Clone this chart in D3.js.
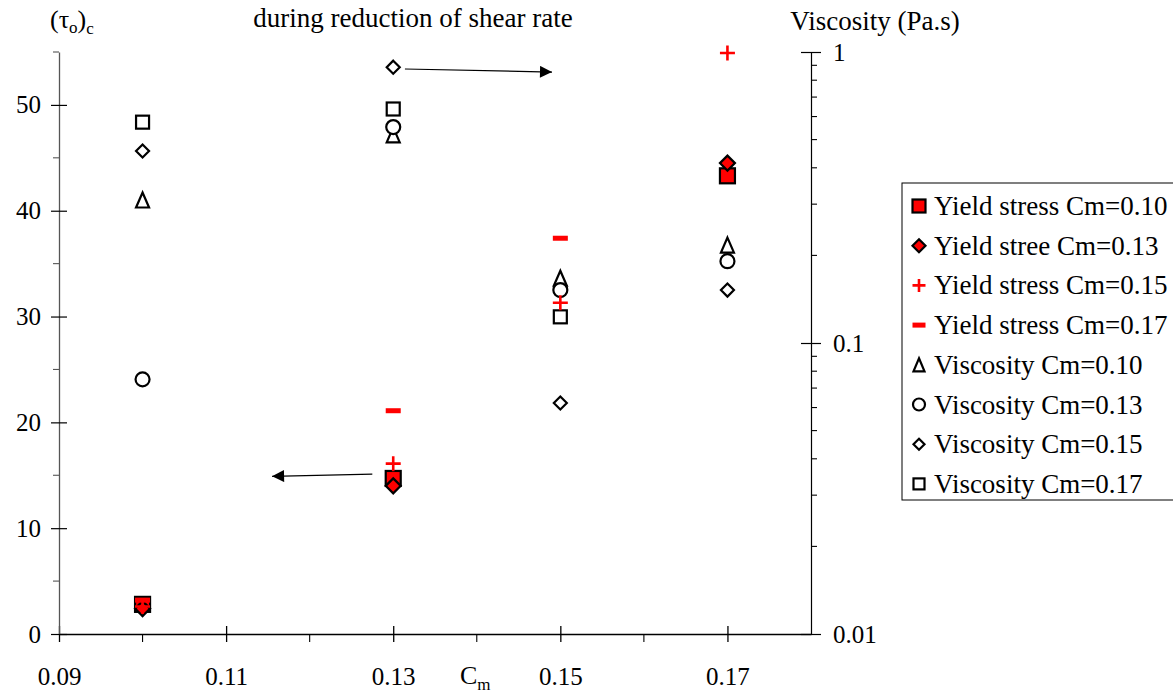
<!DOCTYPE html>
<html><head><meta charset="utf-8">
<script src="https://cdn.jsdelivr.net/npm/d3@7"></script>
<style>
body{margin:0;background:#fff;}
</style></head>
<body><svg id="c" width="1173" height="693" font-family="'Liberation Serif', 'Times New Roman', serif"></svg>
<script>
// ---- data ----
const cmValues = [0.10, 0.13, 0.15, 0.17];
const yieldCm010 = [2.8, 14.7, null, 43.3];
const yieldCm013 = [2.4, 14.0, null, 44.5];
const yieldCm015 = [2.6, 16.1, 31.3, 54.9];
const yieldCm017 = [3.2, 21.1, 37.4, null];
const viscCm010 = [0.31, 0.519, 0.167, 0.217];
const viscCm013 = [0.075, 0.552, 0.152, 0.191];
const viscCm015 = [0.457, 0.887, 0.0622, 0.152];
const viscCm017 = [0.574, 0.637, 0.123, null];
const xTicks = [0.09, 0.11, 0.13, 0.15, 0.17];
const xMinorTicks = [0.10, 0.12, 0.14, 0.16];
const yLeftTicks = [0, 10, 20, 30, 40, 50];
const yRightTicks = [0.01, 0.1, 1];
const seriesNames = ["Yield stress Cm=0.10","Yield stree Cm=0.13","Yield stress Cm=0.15","Yield stress Cm=0.17",
  "Viscosity Cm=0.10","Viscosity Cm=0.13","Viscosity Cm=0.15","Viscosity Cm=0.17"];

const FONT = "'Liberation Serif', 'Times New Roman', serif";
const svg = d3.select("#c");
const L = 59, R = 811, T = 52, B = 634;
const x = d3.scaleLinear().domain([0.09, 0.18]).range([L, R]);
const yL = d3.scaleLinear().domain([0, 55]).range([B, T]);
const yR = d3.scaleLog().domain([0.01, 1]).range([B, T]);
const FS = "25px";

// axes
const axCol = "#000";
const gx = svg.append("g").attr("transform", `translate(0,${B})`);
gx.call(d3.axisBottom(x).tickValues(xTicks).tickSize(0).tickFormat(d3.format(".2f")));
gx.select(".domain").attr("stroke", axCol).attr("stroke-width", 1.3);
gx.selectAll(".tick text").attr("dy", null).attr("y", 51).style("font-size", FS);
gx.selectAll(".tick").append("line").attr("y1", -8).attr("y2", 8).attr("stroke", axCol).attr("stroke-width", 1.3);
gx.selectAll(".minor").data(xMinorTicks).enter().append("line")
  .attr("x1", d => x(d)).attr("x2", d => x(d)).attr("y1", 0).attr("y2", 8).attr("stroke", axCol).attr("stroke-width", 1.1);

const gl = svg.append("g").attr("transform", `translate(${L},0)`);
gl.call(d3.axisLeft(yL).tickValues(yLeftTicks).tickSize(0).tickPadding(18));
gl.select(".domain").attr("stroke", "#555").attr("stroke-width", 1.3);
gl.selectAll(".tick text").style("font-size", FS);
gl.selectAll(".tick").append("line").attr("x1", -8).attr("x2", 8).attr("stroke", axCol).attr("stroke-width", 1.2);
gl.selectAll(".minor").data([5, 15, 25, 35, 45, 55]).enter().append("line")
  .attr("y1", d => yL(d)).attr("y2", d => yL(d)).attr("x1", -6).attr("x2", 0).attr("stroke", "#555").attr("stroke-width", 1.1);

const gr = svg.append("g").attr("transform", `translate(${R},0)`);
gr.call(d3.axisRight(yR).tickValues(yRightTicks).tickSize(0).tickPadding(22).tickFormat(d => String(d)));
gr.select(".domain").attr("stroke", axCol).attr("stroke-width", 1.2);
gr.selectAll(".tick text").style("font-size", FS);
gr.selectAll(".tick").append("line").attr("x1", -10).attr("x2", 10).attr("stroke", axCol).attr("stroke-width", 1.2);
const rMinor = [];
[0.01, 0.1].forEach(b => { for (let k = 2; k <= 9; k++) rMinor.push(b * k); });
gr.selectAll(".minor").data(rMinor).enter().append("line")
  .attr("y1", d => yR(d)).attr("y2", d => yR(d)).attr("x1", 0).attr("x2", 6).attr("stroke", axCol).attr("stroke-width", 1.1);
[gx, gl, gr].forEach(g => g.attr("font-family", FONT));

// titles
svg.append("text").attr("x", 50).attr("y", 28).style("font-size", "26px")
  .html('(τ<tspan dy="5" font-size="17">o</tspan><tspan dy="-5">)</tspan><tspan dy="6" font-size="17">c</tspan>');
svg.append("text").attr("x", 413).attr("y", 27).attr("text-anchor", "middle").style("font-size", "27px").text("during reduction of shear rate");
svg.append("text").attr("x", 875).attr("y", 30).attr("text-anchor", "middle").style("font-size", "27px").text("Viscosity (Pa.s)");
svg.append("text").attr("x", 460).attr("y", 684).style("font-size", "26px")
  .html('C<tspan dy="6" font-size="17">m</tspan>');

// markers
function marker(g, type, s) {
  const h = s / 2;
  if (type === "ysq") g.append("rect").attr("x", -h).attr("y", -h).attr("width", s).attr("height", s).attr("fill", "#ff0000").attr("stroke", "#000").attr("stroke-width", 2.2);
  if (type === "ydi") g.append("path").attr("d", `M0,${-h}L${h},0L0,${h}L${-h},0Z`).attr("fill", "#ff0000").attr("stroke", "#000").attr("stroke-width", 2.2);
  if (type === "ypl") g.append("path").attr("d", `M${-h},0H${h}M0,${-h}V${h}`).attr("stroke", "#ff0000").attr("stroke-width", 2.6).attr("fill", "none");
  if (type === "ymi") g.append("rect").attr("x", -h).attr("y", -2.5).attr("width", s).attr("height", 5).attr("fill", "#ff0000");
  if (type === "vtr") g.append("path").attr("d", `M0,${-h}L${h - 1},${h}L${-h + 1},${h}Z`).attr("fill", "#fff").attr("stroke", "#000").attr("stroke-width", 2.2).attr("stroke-linejoin", "miter");
  if (type === "vci") g.append("circle").attr("r", h - 0.5).attr("fill", "#fff").attr("stroke", "#000").attr("stroke-width", 2.2);
  if (type === "vdi") g.append("path").attr("d", `M0,${-h + 1}L${h - 1},0L0,${h - 1}L${-h + 1},0Z`).attr("fill", "#fff").attr("stroke", "#000").attr("stroke-width", 2.2);
  if (type === "vsq") g.append("rect").attr("x", -h + 1).attr("y", -h + 1).attr("width", s - 2).attr("height", s - 2).attr("fill", "#fff").attr("stroke", "#000").attr("stroke-width", 2.2);
}
const series = [
  {vals: yieldCm010, type: "ysq", axis: "L"},
  {vals: yieldCm013, type: "ydi", axis: "L"},
  {vals: yieldCm015, type: "ypl", axis: "L"},
  {vals: yieldCm017, type: "ymi", axis: "L"},
  {vals: viscCm010, type: "vtr", axis: "R"},
  {vals: viscCm013, type: "vci", axis: "R"},
  {vals: viscCm015, type: "vdi", axis: "R"},
  {vals: viscCm017, type: "vsq", axis: "R"}
];
const plotOrder = [4, 5, 6, 7, 0, 1, 2, 3];
plotOrder.forEach(i => {
  const s = series[i];
  s.vals.forEach((v, j) => {
    if (v == null) return;
    const yy = s.axis === "L" ? yL(v) : yR(v);
    const g = svg.append("g").attr("transform", `translate(${x(cmValues[j])},${yy})`);
    marker(g, s.type, 15);
  });
});

// arrows
svg.append("defs").append("marker").attr("id", "ah").attr("viewBox", "0 0 10 10").attr("refX", 10).attr("refY", 5)
  .attr("markerWidth", 14).attr("markerHeight", 12).attr("markerUnits", "userSpaceOnUse").attr("orient", "auto")
  .append("path").attr("d", "M0,0L10,5L0,10Z").attr("fill", "#000");
const arrowTop = {x1: 0.1314, y1: 0.874, x2: 0.1490, y2: 0.853};
const arrowBottom = {x1: 0.1275, y1: 15.1, x2: 0.1155, y2: 14.9};
svg.append("line").attr("x1", x(arrowTop.x1)).attr("y1", yR(arrowTop.y1)).attr("x2", x(arrowTop.x2)).attr("y2", yR(arrowTop.y2))
  .attr("stroke", "#000").attr("stroke-width", 1.2).attr("marker-end", "url(#ah)");
svg.append("line").attr("x1", x(arrowBottom.x1)).attr("y1", yL(arrowBottom.y1)).attr("x2", x(arrowBottom.x2)).attr("y2", yL(arrowBottom.y2))
  .attr("stroke", "#000").attr("stroke-width", 1.2).attr("marker-end", "url(#ah)");

// legend
const lg = svg.append("g").attr("transform", "translate(902,183)");
lg.append("rect").attr("x", 0).attr("y", 0).attr("width", 290).attr("height", 317).attr("fill", "#fff").attr("stroke", "#000").attr("stroke-width", 1);
series.forEach((s, i) => {
  const cy = 23 + i * 39.7;
  const g = lg.append("g").attr("transform", `translate(17,${cy})`);
  marker(g, s.type, 13);
  lg.append("text").attr("x", 32).attr("y", cy + 9).style("font-size", "27px").text(seriesNames[i]);
});
svg.selectAll("text").style("font-family", FONT).style("fill", "#000");
</script></body></html>
